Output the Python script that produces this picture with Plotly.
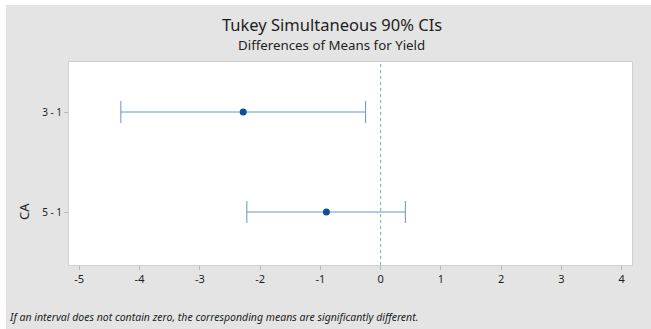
import plotly.graph_objects as go

# Tukey pairwise comparisons of CA levels (difference of means for Yield)
comparisons = ["3 - 1", "5 - 1"]
diff_means = [-2.28, -0.90]
ci_lower = [-4.31, -2.22]
ci_upper = [-0.25, 0.41]
x_ticks = [-5, -4, -3, -2, -1, 0, 1, 2, 3, 4]

# vertical position: first comparison on top
y_pos = [len(comparisons) - 1 - i for i in range(len(comparisons))]
err_plus = [u - m for u, m in zip(ci_upper, diff_means)]
err_minus = [m - l for m, l in zip(diff_means, ci_lower)]

FONT = "Noto Sans"
BG = "#e4e4e4"
INK = "#1e1e1e"

fig = go.Figure()
fig.add_trace(go.Scatter(
    x=diff_means, y=y_pos, mode="markers",
    marker=dict(color="#0d4f9c", size=7),
    error_x=dict(type="data", symmetric=False, array=err_plus, arrayminus=err_minus,
                 color="#6a93c4", thickness=1, width=11),
    showlegend=False, hoverinfo="x",
))

# reference line at zero
fig.add_shape(type="line", xref="x", yref="paper", x0=0, x1=0, y0=0, y1=1,
              line=dict(color="#80a7ab", width=1, dash="dot"))

W, H = 651, 329
L, R, T, B = 69, 19, 62, 64
pw, ph = W - L - R, H - T - B

def px(x):
    return (x - L) / pw

def py(y):
    return (H - B - y) / ph

# white strip along the top and left edges
fig.add_shape(type="rect", xref="paper", yref="paper", layer="below",
              x0=px(0), x1=px(6), y0=py(H), y1=py(0),
              fillcolor="white", line=dict(width=0))
fig.add_shape(type="rect", xref="paper", yref="paper", layer="below",
              x0=px(0), x1=px(W), y0=py(5), y1=py(0),
              fillcolor="white", line=dict(width=0))

fig.update_layout(
    width=W, height=H,
    margin=dict(l=L, r=R, t=T, b=B),
    paper_bgcolor=BG, plot_bgcolor="white",
    font=dict(family=FONT, color=INK),
    xaxis=dict(range=[-5.17, 4.17], tickvals=x_ticks, ticktext=[str(v) for v in x_ticks],
               showgrid=False, zeroline=False, ticks="outside", ticklen=4,
               tickcolor="#b8b8b8", tickfont=dict(size=11, family=FONT, color=INK),
               showline=True, linecolor="#d0d0d0", mirror=True),
    yaxis=dict(range=[-0.53, 1.5], tickvals=y_pos, ticktext=comparisons,
               showgrid=False, zeroline=False, ticks="outside", ticklen=4,
               tickcolor="#b8b8b8", tickfont=dict(size=10, family=FONT, color=INK),
               showline=True, linecolor="#d0d0d0", mirror=True),
)

def label(text, x, y, size, **kw):
    fig.add_annotation(text=text, xref="paper", yref="paper", x=px(x), y=py(y),
                       showarrow=False, borderpad=0,
                       font=dict(size=size, family=FONT, color=INK), **kw)

label("Tukey Simultaneous 90% CIs", 332, 24.5, 16.5, xanchor="center", yanchor="middle")
label("Differences of Means for Yield", 331, 45, 13.3, xanchor="center", yanchor="middle")
label("CA", 24, 212, 13, xanchor="center", yanchor="middle", textangle=-90)
label("<i>If an interval does not contain zero, the corresponding means are significantly different.</i>",
      8, 317, 10.5, xanchor="left", yanchor="middle")

fig.write_html("out.html")
